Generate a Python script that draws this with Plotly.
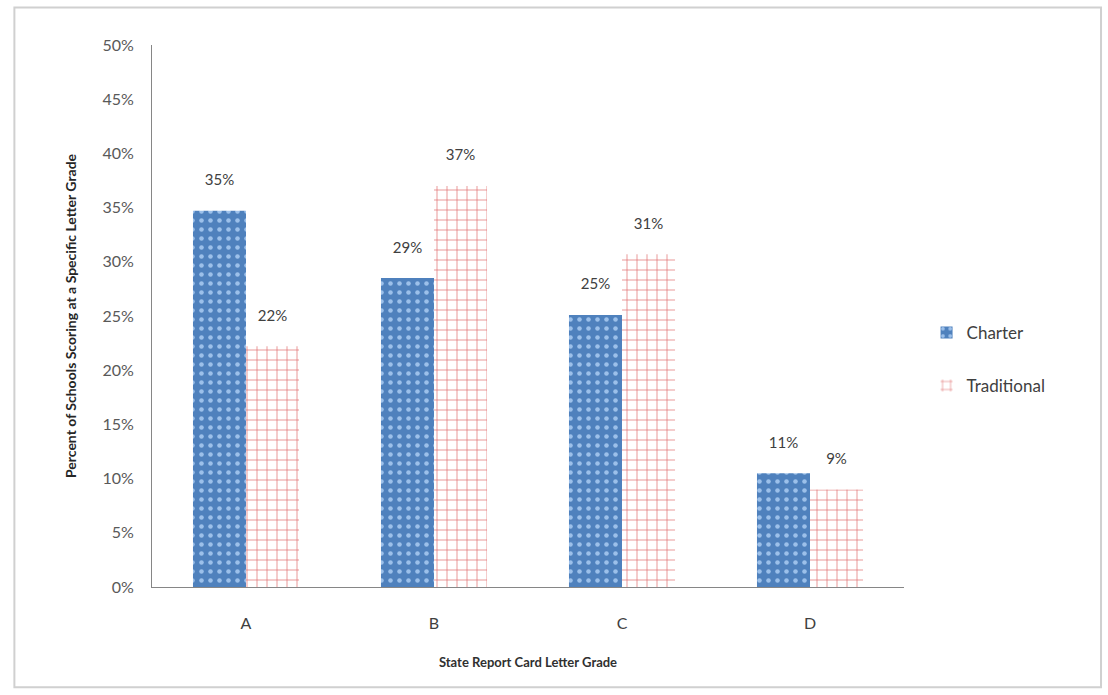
import plotly.graph_objects as go

grades = ["A", "B", "C", "D"]
charter = [34.7, 28.5, 25.1, 10.5]
traditional = [22.2, 37.0, 30.7, 9.0]
charter_labels = ["35%", "29%", "25%", "11%"]
traditional_labels = ["22%", "37%", "31%", "9%"]
y_ticks = [0, 5, 10, 15, 20, 25, 30, 35, 40, 45, 50]
y_tick_labels = [f"{v}%" for v in y_ticks]

FONT = "Lato, Open Sans, sans-serif"

fig = go.Figure()
fig.add_trace(go.Bar(
    x=grades, y=charter, name="Charter", legendgroup="charter",
    text=[t + "<br> " for t in charter_labels], textposition="outside",
    textfont=dict(size=15, color="#404040", family=FONT),
    marker=dict(color="#4F81BD",
                pattern=dict(shape=".", fgcolor="#9CC0EA", bgcolor="#4F81BD",
                             size=9, solidity=0.2, fillmode="replace"),
                line=dict(width=0)),
    cliponaxis=False,
))
fig.add_trace(go.Bar(
    x=grades, y=traditional, name="Traditional", legendgroup="traditional",
    text=[t + "<br> " for t in traditional_labels], textposition="outside",
    textfont=dict(size=15, color="#404040", family=FONT),
    marker=dict(color="white",
                pattern=dict(shape="+", fgcolor="#E07070", bgcolor="white",
                             size=10, solidity=0.14, fillmode="replace"),
                line=dict(width=0)),
    cliponaxis=False,
))

fig.update_layout(
    width=1108, height=695,
    margin=dict(l=152, r=204, t=45, b=108),
    paper_bgcolor="white", plot_bgcolor="white",
    barmode="group", bargap=0.436, bargroupgap=0,
    font=dict(family=FONT, color="#404040"),
    legend=dict(x=1.03, y=0.42, xanchor="left", yanchor="middle",
                font=dict(size=17, color="#404040", family=FONT),
                tracegroupgap=28, traceorder="grouped", bgcolor="rgba(0,0,0,0)"),
    xaxis=dict(
        showgrid=False, showline=True, linecolor="#868686", linewidth=1,
        ticks="", ticklabelstandoff=22,
        tickfont=dict(size=16, color="#404040", family=FONT),
        title=dict(text="<b>State Report Card Letter Grade</b>",
                   font=dict(size=13, color="#303030", family=FONT), standoff=26),
    ),
    yaxis=dict(
        range=[0, 50], tickvals=y_ticks, ticktext=y_tick_labels,
        showgrid=False, showline=True, linecolor="#868686", linewidth=1,
        ticks="", ticklabelstandoff=14,
        tickfont=dict(size=16, color="#595959", family=FONT),
        zeroline=False,
        title=dict(text="<b>Percent of Schools Scoring at a Specific Letter Grade</b>",
                   font=dict(size=14, color="#262626",
                             family="Liberation Sans Narrow, Lato, sans-serif"),
                   standoff=22),
    ),
    shapes=[dict(type="rect", xref="paper", yref="paper",
                 x0=-0.183, x1=1.262, y0=-0.185, y1=1.069,
                 line=dict(color="#D0D0D0", width=2), layer="below")],
)

fig.write_html("out.html")
